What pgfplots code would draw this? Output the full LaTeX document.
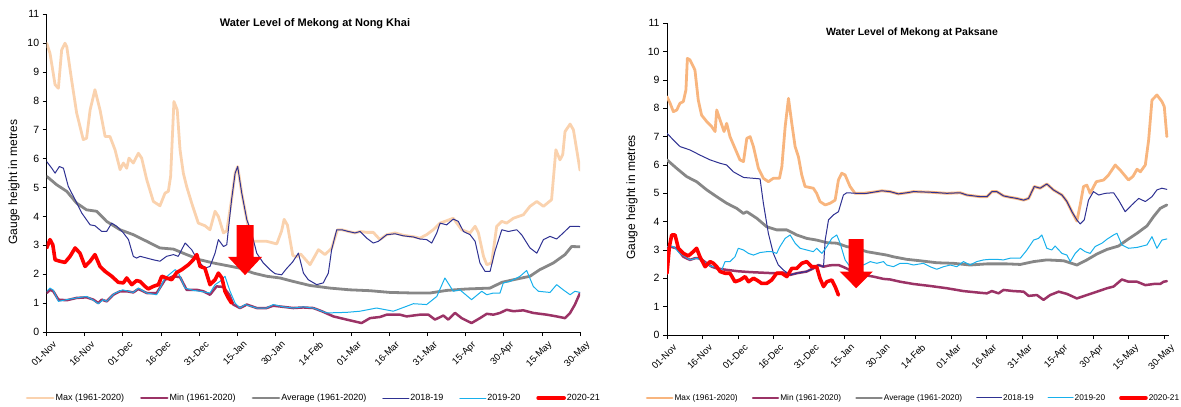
\documentclass[border=0pt]{standalone}
\usepackage{fontspec}
\setmainfont{Liberation Sans}
\usepackage{pgfplots}
\pgfplotsset{compat=1.18}
\definecolor{cmax}{HTML}{FAD2AE}
\definecolor{cmaxR}{HTML}{F8B57E}
\definecolor{cmin}{HTML}{9B3366}
\definecolor{cavg}{HTML}{878787}
\definecolor{ca}{HTML}{2E3192}
\definecolor{cb}{HTML}{17B0EC}
\definecolor{cc}{HTML}{FF0000}
\pgfplotsset{
 mekong/.style={
   scale only axis,
   xmin=0, ymin=0, ymax=11,
   axis x line*=bottom, axis y line*=left,
   axis line style={black, line width=0.8pt, -},
   tick align=outside,
   major tick length=4pt,
   tick style={black, line width=0.8pt},
   ytick={0,1,...,11},
   xtick={0,15,...,210},
   xticklabels={01-Nov,16-Nov,01-Dec,16-Dec,31-Dec,15-Jan,30-Jan,14-Feb,01-Mar,16-Mar,31-Mar,15-Apr,30-Apr,15-May,30-May},
   x tick label style={rotate=45, anchor=north east, font=\fontsize{9.5}{10}\selectfont, inner sep=1pt, xshift=2pt, yshift=-6pt},
   y tick label style={font=\fontsize{10.5}{12}\selectfont},
   /pgf/number format/assume math mode=true,
   ylabel={Gauge height in metres},
   ylabel style={font=\fontsize{12}{14}\selectfont, anchor=center},
   legend columns=6,
   legend style={draw=none, fill=none, font=\fontsize{9}{10}\selectfont, anchor=center,
     /tikz/every even column/.append style={column sep=15pt}, nodes={inner sep=1pt}},
   legend image code/.code={\draw[#1] (0pt,0pt) -- (26pt,0pt);},
   every axis plot/.append style={line join=round, line cap=round},
 },
 pmax/.style={color=cmax, line width=2.8pt},
 pmin/.style={color=cmin, line width=2.5pt},
 pavg/.style={color=cavg, line width=2.8pt},
 pa/.style={color=ca, line width=1pt},
 pb/.style={color=cb, line width=1pt},
 pc/.style={color=cc, line width=3.6pt},
}
\begin{document}
\begin{tikzpicture}
\useasboundingbox (0,0) rectangle (1181pt,407pt);
% ---------------- Left: Nong Khai ----------------
\begin{axis}[mekong, at={(46.7pt,75pt)}, anchor=south west,
  width=533.3pt, height=317.7pt, xmax=210,
  title={Water Level of Mekong at Nong Khai},
  every axis title/.style={at={(axis description cs:0.503,0.972)}, anchor=center, font=\bfseries\fontsize{11}{13}\selectfont},
  ylabel style={at={(axis description cs:-0.0613,0.472)}},
  legend style={at={(axis description cs:0.5,-0.208)}},
]
\addplot[pmax] coordinates {(0,10.0)(1.3,9.65)(3.3,8.56)(4.6,8.44)(5.9,9.77)(7.2,10.0)(7.9,9.88)(9.8,8.73)(11.8,7.58)(14.4,6.66)(15.7,6.71)(17.1,7.69)(19,8.39)(21,7.69)(23,6.77)(24.9,6.77)(26.9,6.31)(28.9,5.62)(30.2,5.85)(31.5,5.67)(32.4,6.02)(34.1,5.85)(36.1,6.19)(37.4,6.02)(39.4,5.27)(42,4.52)(44.6,4.37)(46.6,4.81)(47.9,4.87)(48.8,5.39)(50.1,7.98)(51.4,7.69)(52.5,6.31)(53.8,5.5)(55.1,5.04)(57.1,4.46)(59.7,3.77)(62.3,3.68)(64.3,3.54)(66.3,4.18)(67.6,4.0)(69.6,3.43)(70.9,3.5)(72.8,4.58)(74.2,5.5)(75.2,5.73)(76.8,4.81)(78.8,3.89)(80.2,3.3)(81.4,3.14)(86.6,3.14)(90.6,3.05)(92.5,3.5)(93.5,3.9)(94.8,3.7)(96.9,2.65)(98.4,2.6)(100,2.7)(103.7,2.33)(107,2.85)(109.6,2.68)(112.2,2.9)(114.5,3.54)(116.2,3.54)(118.8,3.48)(121.4,3.43)(123.4,3.48)(126,3.45)(128.6,3.45)(131.2,3.2)(133.9,3.37)(137.2,3.43)(140.4,3.35)(144.4,3.3)(147,3.25)(149.6,3.37)(152.2,3.54)(154.9,3.77)(156.8,3.83)(160.1,3.94)(163.4,3.54)(166.7,3.43)(168.7,3.66)(170,3.43)(172,2.62)(173.3,2.33)(175.2,2.39)(177.2,3.66)(179.2,3.83)(181.1,3.77)(183.8,3.94)(187.7,4.06)(190.3,4.35)(193,4.52)(195.6,4.35)(198.8,4.58)(200.5,6.31)(202.1,5.96)(203.2,6.14)(204.1,6.94)(206.1,7.2)(207.4,7.0)(208.7,6.31)(210,5.6)};
\addlegendentry{Max (1961-2020)}
\addplot[pmin] coordinates {(0,1.35)(1.3,1.46)(2.6,1.41)(4.6,1.12)(7.9,1.1)(11.8,1.18)(15.7,1.2)(18.4,1.12)(20.3,1.0)(21.7,1.12)(23.6,1.06)(26.2,1.29)(28.9,1.41)(31.5,1.41)(34.1,1.37)(36.1,1.49)(39.4,1.35)(43.3,1.35)(46.6,1.81)(49.9,1.93)(52.5,1.9)(55.1,1.46)(59.1,1.46)(61.7,1.41)(64.3,1.29)(66.9,1.58)(69.6,1.56)(71.9,1.29)(73.5,0.95)(76.1,0.83)(78.8,0.95)(82.7,0.83)(86.6,0.83)(89.2,0.91)(93.2,0.87)(97.1,0.83)(101,0.85)(105,0.83)(108.3,0.72)(112.9,0.54)(118.1,0.43)(124,0.31)(127.3,0.48)(131.2,0.52)(133.9,0.6)(139.1,0.6)(141.7,0.54)(147,0.6)(150.3,0.6)(152.9,0.43)(156.2,0.57)(158.1,0.43)(160.8,0.66)(163.4,0.48)(167.3,0.31)(170.6,0.48)(173.3,0.63)(175.9,0.6)(178.5,0.66)(181.1,0.77)(183.8,0.72)(187.7,0.75)(191.6,0.66)(196.9,0.6)(200.8,0.54)(204.1,0.48)(206.1,0.66)(208,0.95)(210,1.35)};
\addlegendentry{Min (1961-2020)}
\addplot[pavg] coordinates {(0,5.39)(3.9,5.1)(7.9,4.87)(11.8,4.46)(15.7,4.23)(19.7,4.18)(23.6,3.83)(28.9,3.54)(34.1,3.37)(39.4,3.14)(44.6,2.91)(49.9,2.87)(55.1,2.68)(60.4,2.5)(65.6,2.39)(70.9,2.3)(76.1,2.21)(81.4,2.04)(86.6,1.93)(91.9,1.87)(97.1,1.75)(103.7,1.61)(111.6,1.52)(119.4,1.46)(127.3,1.43)(135.2,1.37)(144.4,1.35)(150.9,1.35)(157.5,1.44)(165.4,1.49)(174.6,1.52)(179.2,1.72)(183.8,1.81)(190.3,1.93)(194.2,2.16)(199.5,2.39)(204.1,2.68)(206.7,2.96)(210,2.95)};
\addlegendentry{Average (1961-2020)}
\addplot[pa] coordinates {(0,5.9)(2,5.67)(3.3,5.5)(5,5.73)(6.6,5.67)(8.5,5.04)(11.2,4.58)(13.8,4.12)(17.1,3.71)(19,3.68)(21.7,3.48)(23.6,3.48)(25.6,3.77)(27.6,3.66)(30.2,3.43)(32.2,3.2)(34.1,2.62)(35.4,2.56)(36.8,2.62)(39.4,2.56)(42,2.5)(44.6,2.45)(47.2,2.62)(49.9,2.68)(51.8,2.62)(54.5,3.08)(57.1,2.85)(59.7,2.45)(62.3,2.21)(64.3,2.27)(66.3,2.73)(67.6,3.2)(69.6,2.96)(70.9,3.02)(72.8,4.58)(74.2,5.5)(75.2,5.73)(76.8,4.81)(78.8,3.89)(80.7,3.43)(82.7,2.73)(85.3,2.39)(87.9,2.16)(89.9,2.02)(92.5,1.98)(94.5,2.2)(96.8,2.42)(99.1,2.73)(101.1,2.04)(103,1.81)(106.3,1.64)(108.9,1.7)(110.9,2.04)(112.2,2.85)(114.2,3.54)(116.2,3.54)(118.8,3.48)(121.4,3.43)(123.4,3.48)(126,3.25)(128.6,3.08)(130.6,3.14)(133.9,3.37)(137.2,3.4)(140.4,3.33)(144.4,3.29)(147,3.22)(149.6,3.2)(151.6,3.08)(153.6,3.43)(154.9,3.77)(157.5,3.71)(160.1,3.91)(162.1,3.83)(164.1,3.48)(166.7,3.37)(168.7,3.14)(170.6,2.39)(172.6,2.1)(174.6,2.1)(176.5,2.79)(179.2,3.54)(181.8,3.48)(185.1,3.54)(187,3.37)(190.3,2.91)(193,2.73)(195.6,3.2)(198.2,3.31)(200.8,3.22)(203.4,3.43)(206.1,3.66)(208.7,3.66)(210,3.65)};
\addlegendentry{2018-19}
\addplot[pb] coordinates {(0,1.41)(1.3,1.52)(2.6,1.45)(4.6,1.06)(7.9,1.12)(11.8,1.18)(15.7,1.23)(18.4,1.1)(20.3,0.98)(22.3,1.12)(23.6,1.06)(26.6,1.33)(29.9,1.46)(34.1,1.37)(36.1,1.52)(39.4,1.35)(43.3,1.29)(46.6,1.87)(50.6,2.16)(51.9,2.04)(54.5,1.52)(57.8,1.44)(60.4,1.41)(64.3,1.35)(66.3,1.64)(68.2,1.75)(70.2,1.93)(72.2,1.41)(74.2,1.0)(76.1,0.83)(78.1,0.95)(82.7,0.83)(86.6,0.83)(89.2,0.95)(93.2,0.87)(97.1,0.83)(101,0.87)(105,0.83)(110.2,0.66)(118.1,0.68)(123.4,0.72)(129.9,0.83)(136.5,0.72)(141.7,0.89)(144.4,0.98)(149.6,0.95)(153.6,1.23)(156.8,1.87)(160.1,1.41)(162.7,1.46)(167.3,1.12)(171.3,1.41)(173.3,1.29)(175.9,1.35)(178.5,1.35)(179.8,1.7)(182.4,1.75)(186.4,1.93)(189,2.13)(191.6,1.58)(193.6,1.41)(198.2,1.37)(200.8,1.64)(203.4,1.46)(206.1,1.29)(208,1.41)(210,1.37)};
\addlegendentry{2019-20}
\addplot[pc] coordinates {(0,2.91)(1.3,3.2)(2.4,3.02)(3.3,2.5)(5.2,2.45)(7.2,2.41)(9.2,2.62)(11.2,2.91)(13.1,2.73)(15.1,2.27)(17.1,2.45)(19,2.68)(21,2.27)(23,2.1)(25.6,1.93)(28.2,1.72)(30.2,1.7)(31.5,1.87)(33.5,1.64)(35.4,1.78)(36.8,1.75)(38.7,1.58)(40,1.49)(42,1.58)(44,1.64)(45.3,1.93)(47.2,1.87)(49.2,1.81)(51.2,2.06)(53.2,2.16)(55.8,2.33)(57.7,2.5)(59.1,2.68)(60.4,2.27)(62.3,2.21)(64.3,1.64)(66.3,1.81)(67.6,2.04)(69,1.87)(70.2,1.41)(71.5,1.18)(72.8,1.0)};
\addlegendentry{2020-21}
\fill[cc] (axis cs:74.75,3.7) -- (axis cs:81.45,3.7) -- (axis cs:81.45,2.6) -- (axis cs:84.8,2.6) -- (axis cs:78.1,1.97) -- (axis cs:71.4,2.6) -- (axis cs:74.75,2.6) -- cycle;
\end{axis}
% ---------------- Right: Paksane ----------------
\begin{axis}[mekong, at={(667pt,72pt)}, anchor=south west,
  width=502pt, height=311.7pt, xmax=212,
  pmax/.style={color=cmaxR, line width=2.8pt},
  title={Water Level of Mekong at Paksane},
  every axis title/.style={at={(axis description cs:0.488,0.971)}, anchor=center, font=\bfseries\fontsize{10.5}{12}\selectfont},
  ylabel style={at={(axis description cs:-0.0697,0.441)}},
  legend style={at={(axis description cs:0.49,-0.202)}, font=\fontsize{8.3}{9}\selectfont,
     /tikz/every even column/.append style={column sep=13pt}},
  legend image code/.code={\draw[#1] (0pt,0pt) -- (25pt,0pt);},
]
\addplot[pmax] coordinates {(0,8.41)(1.3,8.18)(2.7,7.88)(4.1,7.94)(5.5,8.18)(6.9,8.24)(8,8.65)(8.6,9.76)(9.7,9.71)(11.8,9.35)(13.2,8.29)(14.6,7.76)(16.8,7.53)(18.9,7.35)(20.3,7.18)(21,7.94)(22.4,7.59)(24.1,7.18)(25.2,7.47)(26.6,7.0)(28.7,6.59)(30.8,6.18)(32.3,6.12)(33.7,6.94)(35.1,7.0)(36.5,6.65)(38.6,5.88)(40.7,5.53)(42.8,5.41)(44.9,5.53)(47.5,5.53)(48.5,5.94)(49.9,7.35)(51.3,8.35)(52.7,7.47)(54.1,6.65)(55.5,6.29)(56.9,5.65)(58.3,5.24)(61.8,5.18)(63.2,5.0)(64.6,4.71)(66.8,4.59)(68.9,4.65)(71,4.76)(72.4,5.47)(73.8,5.71)(75.2,5.65)(77.3,5.24)(79.4,5.0)(83,5.0)(88.6,5.06)(90.7,5.09)(94.2,5.06)(97.7,4.98)(101.3,5.02)(104.1,5.06)(111.1,5.04)(118.2,5.0)(123.8,5.02)(126.6,4.94)(132.3,4.88)(135.1,4.88)(137.2,5.06)(139.3,5.06)(142.1,4.91)(144.9,4.86)(147.7,4.82)(150.6,4.76)(152.7,4.82)(155.1,5.24)(157.6,5.18)(160.4,5.33)(163.2,5.12)(166.8,4.94)(168.9,4.71)(171,4.35)(173.1,4.02)(174.5,4.6)(175.9,5.24)(177.3,5.29)(178.7,5.0)(181.3,5.41)(184.4,5.47)(186.5,5.65)(189.3,6.0)(191.4,5.82)(194.9,5.47)(196.8,5.6)(198.5,5.85)(199.9,5.76)(202,6.0)(203.4,6.88)(204.8,8.29)(206.9,8.47)(209,8.24)(210,8.06)(211.1,7.0)};
\addlegendentry{Max (1961-2020)}
\addplot[pmin] coordinates {(0,3.0)(1.3,3.12)(4.1,3.06)(6.9,2.76)(9.7,2.65)(11.8,2.71)(13.9,2.71)(16.8,2.53)(18.9,2.41)(21,2.35)(25,2.3)(30,2.25)(35,2.22)(40,2.2)(45,2.18)(49.2,2.2)(52,2.12)(54.8,2.18)(59,2.24)(61.8,2.35)(63.9,2.47)(66.1,2.41)(68.2,2.45)(70.3,2.47)(72.4,2.47)(74.5,2.4)(77.3,2.29)(79.4,2.2)(83,2.12)(87.2,2.06)(91.4,1.98)(94.2,1.96)(98.5,1.88)(104.1,1.8)(111.1,1.73)(118.2,1.65)(125.2,1.55)(132.3,1.49)(135.1,1.47)(137.2,1.55)(140,1.47)(142.1,1.59)(146.3,1.55)(150.6,1.53)(152.7,1.38)(156.2,1.41)(159,1.24)(161.8,1.41)(165.4,1.53)(168.9,1.45)(173.1,1.29)(177.3,1.41)(181.6,1.53)(185.8,1.65)(188.6,1.71)(192.1,1.96)(194.9,1.88)(198.5,1.88)(202,1.76)(205.5,1.8)(208.3,1.8)(209.7,1.88)(211.1,1.9)};
\addlegendentry{Min (1961-2020)}
\addplot[pavg] coordinates {(0,6.18)(4.1,5.88)(8.3,5.59)(12.5,5.41)(16.8,5.12)(21,4.88)(25.2,4.65)(29.4,4.47)(32.3,4.29)(33.7,4.35)(37.9,4.12)(42.1,3.82)(46.3,3.71)(50.6,3.71)(54.8,3.53)(59,3.41)(63.2,3.35)(67.5,3.26)(71.7,3.24)(75.9,3.12)(80.1,3.06)(84.4,2.94)(88.6,2.88)(92.8,2.82)(95.6,2.76)(101.3,2.67)(106.9,2.62)(113.9,2.55)(121,2.53)(128,2.47)(135.1,2.51)(143.5,2.51)(149.2,2.49)(154.8,2.59)(160.4,2.65)(167.5,2.62)(173.1,2.47)(177.3,2.65)(181.6,2.86)(185.8,3.02)(190.7,3.14)(194.2,3.35)(198.5,3.59)(202.7,3.85)(205.5,4.18)(208.3,4.47)(211.1,4.59)};
\addlegendentry{Average (1961-2020)}
\addplot[pa] coordinates {(0,7.12)(2.7,6.88)(5.5,6.65)(9.7,6.53)(13.9,6.35)(18.2,6.18)(22.4,6.06)(25.2,6.0)(28,5.76)(32.3,5.56)(36.5,5.53)(39.3,5.51)(40.7,4.65)(42.8,3.59)(44.9,2.88)(47,2.47)(49.2,2.29)(52,2.12)(54.8,2.18)(59,2.24)(61.8,2.35)(63.9,2.47)(66.1,2.41)(66.8,3.35)(68.2,4.06)(70.3,4.24)(72.4,4.35)(74.5,4.94)(75.9,5.02)(80.1,5.0)(84.4,5.0)(88.6,5.06)(90.7,5.09)(94.2,5.06)(97.7,4.98)(101.3,5.02)(104.1,5.06)(111.1,5.04)(118.2,5.0)(123.8,5.02)(126.6,4.94)(132.3,4.88)(135.1,4.88)(137.2,5.06)(139.3,5.06)(142.1,4.91)(144.9,4.86)(147.7,4.82)(150.6,4.76)(152.7,4.82)(155.1,5.24)(157.6,5.18)(160.4,5.33)(163.2,5.12)(166.8,4.94)(168.9,4.71)(171,4.35)(173.1,4.06)(174.5,3.92)(176.2,4.06)(178,4.76)(180.1,5.06)(182.3,4.94)(185.1,5.0)(188.6,5.02)(190.7,4.76)(193.5,4.35)(196.3,4.59)(199.2,4.82)(202,4.71)(204.8,4.88)(206.9,5.12)(209,5.18)(211.1,5.14)};
\addlegendentry{2018-19}
\addplot[pb] coordinates {(0,3.12)(2.7,3.12)(5.5,2.88)(9.7,2.65)(12.5,2.71)(15.4,2.59)(18.9,2.41)(21,2.41)(23.1,2.29)(24.5,2.59)(26.6,2.59)(28.7,2.76)(30.1,3.06)(32.3,3.0)(34.4,2.88)(36.5,2.82)(39.3,2.91)(42.1,2.94)(44.2,2.94)(46.3,2.88)(47.7,3.12)(49.9,3.41)(52,3.53)(54.1,3.24)(56.2,3.06)(59,3.0)(61.8,2.94)(63.2,3.06)(65.4,2.88)(67.5,3.12)(69.6,3.41)(71.7,3.53)(73.1,3.24)(75.2,2.65)(77.3,2.41)(80.1,2.53)(83,2.47)(85.8,2.59)(88.6,2.53)(91.4,2.59)(92.8,2.47)(95.6,2.41)(98.5,2.53)(101.3,2.53)(104.1,2.47)(108.3,2.53)(111.1,2.41)(113.9,2.32)(116.8,2.41)(119.6,2.47)(122.4,2.41)(125.2,2.59)(128,2.47)(130.8,2.59)(133.7,2.65)(136.5,2.67)(139.3,2.67)(142.1,2.65)(144.9,2.71)(149.2,2.71)(152,3.0)(154.8,3.35)(156.9,3.41)(158.3,3.53)(160.4,3.06)(162.5,3.0)(163.9,3.14)(166.8,2.88)(168.9,2.82)(170.3,2.59)(172.4,2.88)(174.5,3.06)(176.6,2.94)(178.7,2.88)(180.8,3.12)(183.7,3.24)(185.8,3.38)(188.6,3.53)(190,3.59)(192.1,3.18)(194.9,3.06)(198.5,3.09)(202.7,3.18)(204.8,3.47)(206.9,3.06)(209,3.35)(211.1,3.39)};
\addlegendentry{2019-20}
\addplot[pc] coordinates {(0,2.18)(1,3.12)(2,3.53)(3.4,3.53)(4.8,3.06)(6.9,2.88)(9,2.79)(11.1,2.94)(12.5,3.06)(13.9,2.76)(16.1,2.41)(18.2,2.59)(19.6,2.53)(21,2.41)(22.4,2.24)(24.5,2.18)(26.6,2.18)(28.7,1.88)(30.8,1.94)(33,2.06)(34.4,1.88)(36.5,2.0)(37.9,1.94)(40,1.82)(42.1,1.82)(44.2,1.94)(46.3,2.18)(48.5,2.18)(50.6,2.06)(52.7,2.35)(54.8,2.35)(56.9,2.53)(59,2.59)(61.1,2.41)(63.2,2.41)(64.6,2.0)(66.1,1.71)(67.5,1.88)(69.6,1.94)(71,1.71)(72.4,1.41)};
\addlegendentry{2020-21}
\fill[cc] (axis cs:76.73,3.38) -- (axis cs:83.07,3.38) -- (axis cs:83.07,2.24) -- (axis cs:86.9,2.24) -- (axis cs:79.9,1.65) -- (axis cs:72.9,2.24) -- (axis cs:76.73,2.24) -- cycle;
\end{axis}
\end{tikzpicture}
\end{document}
